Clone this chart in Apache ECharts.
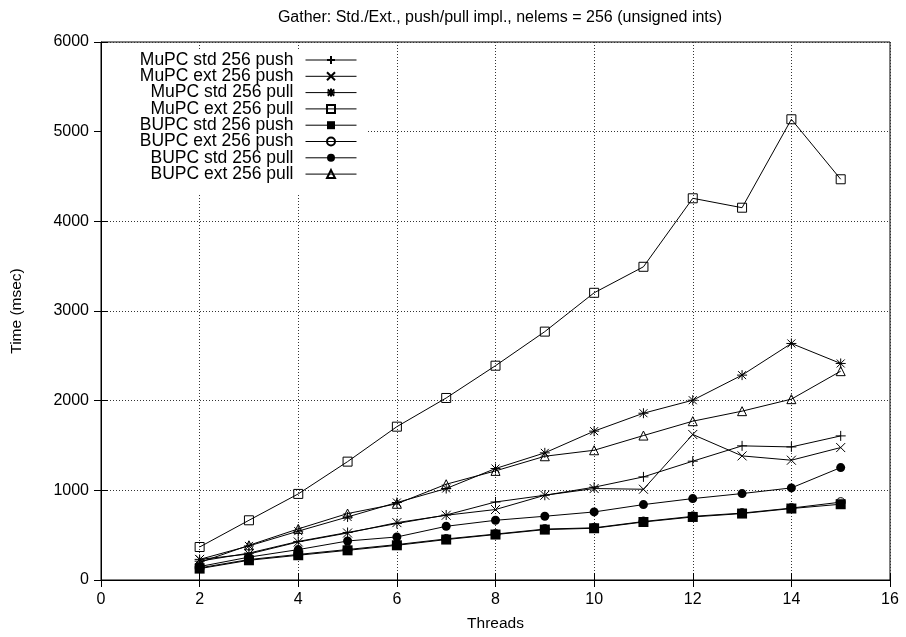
<!DOCTYPE html>
<html>
<head>
<meta charset="utf-8">
<script src="https://cdn.jsdelivr.net/npm/echarts@6/dist/echarts.min.js"></script>
<style>
html,body{margin:0;padding:0;background:#fff;}
#chart{width:906px;height:637px;}
</style>
</head>
<body>
<div id="chart"></div>
<script>
var threads = [2, 3, 4, 5, 6, 7, 8, 9, 10, 11, 12, 13, 14, 15];
var seriesNames = ['MuPC std 256 push', 'MuPC ext 256 push', 'MuPC std 256 pull', 'MuPC ext 256 pull',
                   'BUPC std 256 push', 'BUPC ext 256 push', 'BUPC std 256 pull', 'BUPC ext 256 pull'];
var mupcStdPush = [210, 300, 430, 530, 630, 725, 870, 945, 1035, 1150, 1325, 1496, 1484, 1607];
var mupcExtPush = [230, 290, 424, 524, 640, 722, 786, 945, 1020, 1012, 1623, 1384, 1336, 1477];
var mupcStdPull = [230, 380, 545, 703, 864, 1020, 1243, 1418, 1660, 1860, 2005, 2285, 2638, 2415];
var mupcExtPull = [368, 666, 960, 1320, 1710, 2030, 2390, 2770, 3203, 3493, 4257, 4152, 5138, 4469];
var bupcStdPush = [127, 220, 276, 331, 387, 451, 507, 562, 577, 647, 703, 741, 797, 845];
var bupcExtPush = [135, 228, 285, 340, 395, 458, 512, 568, 582, 652, 710, 746, 802, 868];
var bupcStdPull = [150, 255, 339, 435, 480, 599, 666, 711, 759, 841, 908, 964, 1027, 1254];
var bupcExtPull = [195, 387, 570, 741, 850, 1068, 1217, 1380, 1447, 1611, 1771, 1883, 2017, 2329];
var xTicks = [0, 2, 4, 6, 8, 10, 12, 14, 16];
var yTicks = [0, 1000, 2000, 3000, 4000, 5000, 6000];

var allValues = [mupcStdPush, mupcExtPush, mupcStdPull, mupcExtPull, bupcStdPush, bupcExtPush, bupcStdPull, bupcExtPull];

var FONT = 'Liberation Sans, Arial, Helvetica, sans-serif';
var openStyle = {color: 'rgba(0,0,0,0)', borderColor: '#000', borderWidth: 1};
var strokeStyle = {color: 'rgba(0,0,0,0)', borderColor: '#000', borderWidth: 1};
var fillStyle = {color: '#000', borderColor: '#000', borderWidth: 0};
var symbolDefs = [
  {symbol: 'path://M0,5L10,5M5,0L5,10', size: 10, style: strokeStyle},
  {symbol: 'path://M0,0L10,10M0,10L10,0', size: 9, style: strokeStyle},
  {symbol: 'path://M0,5L10,5M5,0L5,10M1,1L9,9M1,9L9,1', size: 10, style: strokeStyle},
  {symbol: 'rect', size: 9, style: openStyle},
  {symbol: 'rect', size: 10, style: fillStyle},
  {symbol: 'circle', size: 9, style: openStyle},
  {symbol: 'circle', size: 9, style: fillStyle},
  {symbol: 'triangle', size: 9, style: openStyle}
];

function pairs(vals) {
  return threads.map(function (t, i) { return [t, vals[i]]; });
}

var series = seriesNames.map(function (name, i) {
  var d = symbolDefs[i];
  return {
    name: name,
    type: 'line',
    xAxisIndex: 0,
    yAxisIndex: 0,
    data: pairs(allValues[i]),
    symbol: d.symbol,
    symbolSize: d.size,
    showAllSymbol: true,
    lineStyle: {color: '#000', width: 1},
    itemStyle: d.style,
    emphasis: {disabled: true},
    z: 3
  };
});

var legends = seriesNames.map(function (name, i) {
  return {
    data: [name],
    right: 549,
    top: 51 + i * 16.3,
    align: 'right',
    orient: 'vertical',
    padding: 0,
    itemWidth: 51,
    itemHeight: 10,
    selectedMode: false,
    lineStyle: {width: 1, color: '#000'},
    textStyle: {fontFamily: FONT, fontSize: 17.5, color: '#000', lineHeight: 16, padding: [0, 7, 0, 0]}
  };
});

var option = {
  animation: false,
  backgroundColor: '#fff',
  title: {
    text: 'Gather: Std./Ext., push/pull impl., nelems = 256 (unsigned ints)',
    left: 495, textAlign: 'center', top: 5,
    textStyle: {fontFamily: FONT, fontSize: 16, fontWeight: 'normal', color: '#000'}
  },
  legend: legends,
  graphic: [{
    type: 'rect', z: 1,
    shape: {x: 102, y: 50, width: 266, height: 143},
    style: {fill: '#fff'}
  }],
  grid: {left: 101, right: 16, top: 42, bottom: 57, show: true, borderColor: '#000', borderWidth: 1, backgroundColor: 'transparent'},
  xAxis: [{
    type: 'value', min: 0, max: 16, interval: 2, position: 'bottom',
    name: 'Threads', nameLocation: 'middle', nameGap: 36,
    nameTextStyle: {fontFamily: FONT, fontSize: 15.5, color: '#000'},
    axisLine: {show: true, lineStyle: {color: '#000', width: 1}},
    axisTick: {show: true, inside: true, length: 7, lineStyle: {color: '#000'}},
    axisLabel: {fontFamily: FONT, fontSize: 16, color: '#000', margin: 12,
      formatter: function (v) { return xTicks.indexOf(v) >= 0 ? String(v) : ''; }},
    splitLine: {show: true, lineStyle: {color: '#333', width: 1, type: [1, 2]}}
  }, {
    type: 'value', min: 0, max: 16, interval: 2, position: 'top',
    axisLine: {show: false},
    axisTick: {show: true, inside: true, length: 7, lineStyle: {color: '#000'}},
    axisLabel: {show: false},
    splitLine: {show: false}
  }],
  yAxis: [{
    type: 'value', min: 0, max: 6000, interval: 1000, position: 'left',
    name: 'Time (msec)', nameLocation: 'middle', nameGap: 76, nameRotate: 90,
    nameTextStyle: {fontFamily: FONT, fontSize: 15.5, color: '#000'},
    axisLine: {show: true, lineStyle: {color: '#000', width: 1}},
    axisTick: {show: true, inside: true, length: 7, lineStyle: {color: '#000'}},
    axisLabel: {fontFamily: FONT, fontSize: 16, color: '#000', margin: 12,
      formatter: function (v) { return yTicks.indexOf(v) >= 0 ? String(v) : ''; }},
    splitLine: {show: true, lineStyle: {color: '#333', width: 1, type: [1, 2]}}
  }, {
    type: 'value', min: 0, max: 6000, interval: 1000, position: 'right',
    axisLine: {show: false},
    axisTick: {show: true, inside: true, length: 7, lineStyle: {color: '#000'}},
    axisLabel: {show: false},
    splitLine: {show: false}
  }],
  series: series
};

var chart = echarts.init(document.getElementById('chart'), null, {renderer: 'canvas'});
chart.setOption(option);
</script>
</body>
</html>
